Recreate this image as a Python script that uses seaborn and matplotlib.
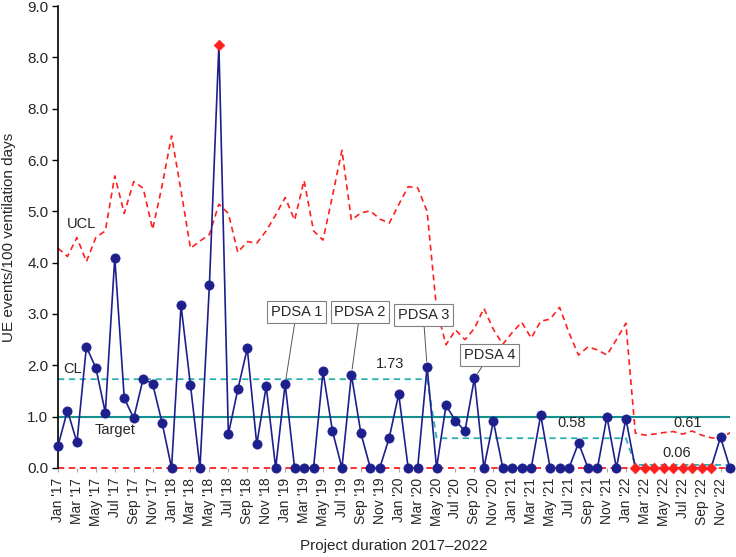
import pandas as pd
import seaborn as sns
import matplotlib.pyplot as plt
import numpy as np

# UE events per 100 ventilation days, monthly Jan 2017 - Dec 2022
ue_rate = [0.43, 1.12, 0.50, 2.36, 1.95, 1.08, 4.10, 1.36, 0.97, 1.74, 1.64, 0.88,
           0.00, 3.17, 1.61, 0.00, 3.57, 8.24, 0.66, 1.53, 2.33, 0.46, 1.59, 0.00,
           1.64, 0.00, 0.00, 0.00, 1.88, 0.72, 0.00, 1.82, 0.68, 0.00, 0.00, 0.59,
           1.44, 0.00, 0.00, 1.97, 0.00, 1.22, 0.92, 0.72, 1.75, 0.00, 0.91, 0.00,
           0.00, 0.00, 0.00, 1.03, 0.00, 0.00, 0.00, 0.49, 0.00, 0.00, 1.00, 0.00,
           0.96, 0.00, 0.00, 0.00, 0.00, 0.00, 0.00, 0.00, 0.00, 0.00, 0.60, 0.00]

ucl = [4.28, 4.12, 4.49, 4.02, 4.49, 4.62, 5.69, 4.96, 5.58, 5.45, 4.65, 5.50,
       6.47, 5.40, 4.28, 4.42, 4.55, 5.14, 4.96, 4.20, 4.41, 4.38, 4.62, 4.93,
       5.27, 4.83, 5.60, 4.62, 4.44, 5.30, 6.19, 4.83, 4.97, 5.01, 4.85, 4.77,
       5.13, 5.48, 5.46, 5.00, 3.10, 2.40, 2.69, 2.50, 2.72, 3.11, 2.70, 2.41,
       2.64, 2.84, 2.53, 2.86, 2.90, 3.13, 2.63, 2.20, 2.36, 2.30, 2.20, 2.50,
       2.82, 0.68, 0.64, 0.66, 0.69, 0.71, 0.66, 0.72, 0.64, 0.59, 0.56, 0.69]

# centre line phases: (first month, last month, value)
cl_phases = [(0, 39, 1.73), (40, 60, 0.58), (61, 71, 0.06)]
target = 1.0
special_cause = [17, 61, 62, 63, 64, 65, 66, 67, 68, 69]

months = ["Jan", "Feb", "Mar", "Apr", "May", "Jun", "Jul", "Aug", "Sep", "Oct", "Nov", "Dec"]
years = ["17", "18", "19", "20", "21", "22"]
month_labels = [f"{m} '{y}" for y in years for m in months]

y_ticks = [0, 1, 2, 3, 4, 5, 6, 7, 8, 9]
y_tick_labels = ["0.0", "1.0", "2.0", "3.0", "4.0", "5.0", "6.0", "8.0", "8.0", "9.0"]

pdsa_labels = ["PDSA 1", "PDSA 2", "PDSA 3", "PDSA 4"]
pdsa_months = [24, 31, 39, 44]

n = len(ue_rate)
cl = np.zeros(n)
for start, end, val in cl_phases:
    cl[start:end + 1] = val

df = pd.DataFrame({"month": np.arange(n), "rate": ue_rate, "ucl": ucl, "cl": cl})
df["special"] = df["month"].isin(special_cause)

sns.set_style("white")
plt.rcParams['font.family'] = ['Liberation Sans', 'DejaVu Sans']

navy = "#1c1f8c"
red = "#ff1f1f"
teal = "#13918e"
cyan = "#2bb0b0"

fig = plt.figure(figsize=(7.36, 5.57), dpi=100)
ax = fig.add_axes([0.0788, 0.1598, 0.913, 0.8294])

# LCL at zero
ax.axhline(0, color=red, linestyle=(0, (3.5, 2.5)), linewidth=1.3, zorder=2, clip_on=False)
# target
ax.axhline(target, color=teal, linewidth=1.5, zorder=1)

sns.lineplot(ax=ax, data=df, x="month", y="ucl", color=red, linewidth=1.2,
             linestyle=(0, (3.5, 2.5)), zorder=2)
sns.lineplot(ax=ax, data=df, x="month", y="cl", color=cyan, linewidth=1.3,
             linestyle=(0, (3.5, 2.5)), zorder=2)
sns.lineplot(ax=ax, data=df, x="month", y="rate", color=navy, linewidth=1.2, zorder=3)
sns.scatterplot(ax=ax, data=df[~df.special], x="month", y="rate", color=navy,
                s=44, edgecolor=navy, zorder=4, clip_on=False)
sns.scatterplot(ax=ax, data=df[df.special], x="month", y="rate", color=red,
                marker="D", s=30, edgecolor=red, zorder=4, clip_on=False)

# labels on the chart
ax.text(2.5, 4.76, "UCL", fontsize=10.5, ha="center", va="center")
ax.text(1.5, 1.93, "CL", fontsize=10.5, ha="center", va="center")
ax.annotate("Target", xy=(1.3, 0.99), xytext=(6.0, 0.74), fontsize=10.5,
            ha="center", va="center",
            arrowprops=dict(arrowstyle="-", color="gray", lw=0.6, shrinkA=14, shrinkB=0))
ax.text(35.1, 2.03, "1.73", fontsize=10.5, ha="center", va="center")
ax.text(54.3, 0.88, "0.58", fontsize=10.5, ha="center", va="center")
ax.text(66.5, 0.88, "0.61", fontsize=10.5, ha="center", va="center")
ax.text(65.4, 0.29, "0.06", fontsize=10.5, ha="center", va="center")

pdsa_pos = [(25.2, 3.04), (31.9, 3.04), (38.6, 2.98), (45.6, 2.20)]
for lab, m, (tx, ty) in zip(pdsa_labels, pdsa_months, pdsa_pos):
    ax.annotate(lab, xy=(m, ue_rate[m]), xytext=(tx, ty), fontsize=10.5,
                ha="center", va="center", zorder=5,
                bbox=dict(boxstyle="square,pad=0.25", fc="white", ec="#808080", lw=0.8),
                arrowprops=dict(arrowstyle="-", color="#555555", lw=0.7,
                                shrinkA=0, shrinkB=4))

ax.set_xlim(0, 71)
ax.set_ylim(0, 9)
ax.set_yticks(y_ticks)
ax.set_yticklabels(y_tick_labels, fontsize=11)
ax.set_xticks(np.arange(0, n, 2))
ax.set_xticklabels(month_labels[::2], rotation=90, fontsize=10)
ax.tick_params(axis="y", length=4, width=1, color="black", left=True, pad=3)
ax.tick_params(axis="x", length=3, width=0.8, color="#aaaaaa", bottom=True, pad=4)

for s in ["top", "right", "bottom"]:
    ax.spines[s].set_visible(False)
ax.spines["left"].set_color("black")
ax.spines["left"].set_linewidth(1.2)

ax.set_xlabel("Project duration 2017\u20132022", fontsize=11, labelpad=9)
ax.set_ylabel("UE events/100 ventilation days", fontsize=11, labelpad=8)

fig.savefig("out.png", dpi=100)
